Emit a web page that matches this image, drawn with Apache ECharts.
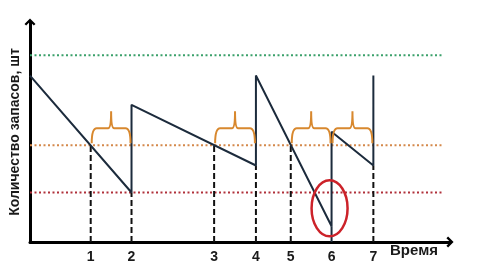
<!DOCTYPE html>
<html>
<head>
<meta charset="utf-8">
<script src="https://cdn.jsdelivr.net/npm/echarts@6/dist/echarts.min.js"></script>
<style>html,body{margin:0;padding:0;background:#fff}#c{width:500px;height:266px}</style>
</head>
<body>
<div id="c"></div>
<script>
// ---- data ----
const tickTimes = [6.1, 10.2, 18.5, 22.7, 26.2, 30.3, 34.5];
const tickLabels = ['1', '2', '3', '4', '5', '6', '7'];
const stockTimes = [0, 10.2, 10.2, 22.7, 22.7, 30.3, 30.3, 34.5, 34.5];
const stockLevels = [74, 22, 61, 34, 74, 7, 49, 34, 74];
const maxLevel = 83;
const reorderLevel = 43;
const safetyLevel = 22;
const levelLineEnd = 41.5;
const dashedTimes = [6.1, 10.2, 18.5, 22.7, 26.2, 34.5];
const dashedLevels = [43, 22, 43, 34, 43, 34];
const stockoutTime = 30.3;
const stockoutLevel = 7;
const braceStarts = [6.1, 18.5, 26.2, 30.3];
const braceEnds = [10.2, 22.7, 30.3, 34.5];
const highlightCenter = [30.1, 15];
const xName = 'Время';
const yName = 'Количество запасов, шт';

const chart = echarts.init(document.getElementById('c'), null, {renderer: 'canvas'});
const ink = '#1c2b3c';
const arrow = 'path://M10,0 L20,10 L17,13 L10,6 L3,13 L0,10 Z';

function hLine(level, color) {
  return {
    type: 'line', data: [[0, level], [levelLineEnd, level]], symbol: 'none', silent: true,
    lineStyle: {color: color, width: 2, type: [2, 2.5]}, z: 1
  };
}

const option = {
  animation: false,
  grid: {left: 28, right: 50, top: 22, bottom: 24},
  xAxis: {
    type: 'value', min: 0, max: 42.2,
    axisLine: {lineStyle: {color: '#000', width: 3}, symbol: ['none', arrow], symbolSize: [11, 13], symbolOffset: [0, 0]},
    axisTick: {show: false},
    splitLine: {show: false},
    axisLabel: {
      customValues: tickTimes,
      formatter: v => tickLabels[tickTimes.indexOf(v)] || '',
      margin: 8, color: '#1a1a1a', fontWeight: 'bold', fontSize: 14, fontFamily: 'Liberation Sans, Arial, sans-serif'
    }
  },
  yAxis: {
    type: 'value', min: 0, max: 97.8,
    name: yName, nameLocation: 'middle', nameRotate: 90, nameGap: 8,
    nameTextStyle: {fontWeight: 'bold', fontSize: 14, color: '#1a1a1a', fontFamily: 'Liberation Sans, Arial, sans-serif'},
    axisLine: {show: true, lineStyle: {color: '#000', width: 3}, symbol: ['none', arrow], symbolSize: [11, 13]},
    axisTick: {show: false}, axisLabel: {show: false}, splitLine: {show: false}
  },
  graphic: [{
    type: 'text', left: 390, top: 243,
    style: {text: xName, fontWeight: 'bold', fontSize: 15, fill: '#1a1a1a', fontFamily: 'Liberation Sans, Arial, sans-serif'}
  }],
  series: [
    hLine(maxLevel, '#3aa06a'),
    hLine(reorderLevel, '#d4884a'),
    hLine(safetyLevel, '#b0303a'),
    {
      type: 'custom', silent: true, z: 2,
      data: dashedTimes.map((t, i) => [t, dashedLevels[i]]),
      renderItem: (params, api) => {
        const a = api.coord([api.value(0), 0]);
        const b = api.coord([api.value(0), api.value(1)]);
        return {type: 'line', shape: {x1: a[0], y1: a[1], x2: b[0], y2: b[1]},
          style: {stroke: '#111', lineWidth: 2, lineDash: [6, 3]}};
      }
    },
    {
      type: 'line', data: [[stockoutTime, 0], [stockoutTime, stockoutLevel]], symbol: 'none', silent: true,
      lineStyle: {color: ink, width: 2}, z: 3
    },
    {
      type: 'line', data: stockTimes.map((t, i) => [t, stockLevels[i]]), symbol: 'none', silent: true,
      lineStyle: {color: ink, width: 2}, z: 4
    },
    {
      type: 'custom', silent: true, z: 5,
      data: braceStarts.map((s, i) => [s, braceEnds[i], reorderLevel]),
      renderItem: (params, api) => {
        const p1 = api.coord([api.value(0), api.value(2)]);
        const p2 = api.coord([api.value(1), api.value(2)]);
        const x1 = p1[0] + 1, x2 = p2[0] - 1, yb = p1[1] - 2, bar = yb - 15, peak = bar - 17;
        const xm = (x1 + x2) / 2;
        const d = `M${x1},${yb} Q${x1},${bar} ${x1 + 5},${bar} L${xm - 3},${bar} Q${xm},${bar} ${xm},${peak} Q${xm},${bar} ${xm + 3},${bar} L${x2 - 5},${bar} Q${x2},${bar} ${x2},${yb}`;
        return {type: 'path', shape: {pathData: d}, style: {stroke: '#d8882e', lineWidth: 2, fill: null}};
      }
    },
    {
      type: 'custom', silent: true, z: 6,
      data: [highlightCenter],
      renderItem: (params, api) => {
        const c = api.coord([api.value(0), api.value(1)]);
        return {type: 'ellipse', shape: {cx: c[0], cy: c[1], rx: 18, ry: 28}, style: {stroke: '#cc2229', lineWidth: 2.5, fill: null}};
      }
    }
  ]
};
chart.setOption(option);
</script>
</body>
</html>
